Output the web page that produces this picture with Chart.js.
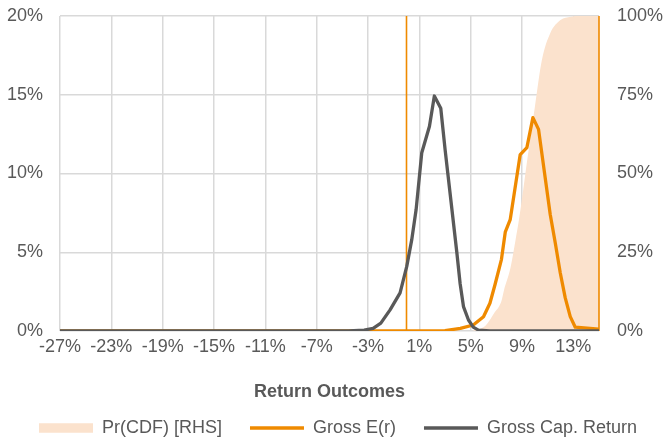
<!DOCTYPE html>
<html><head><meta charset="utf-8">
<script src="https://cdn.jsdelivr.net/npm/chart.js@4.4.1/dist/chart.umd.min.js"></script>
<style>html,body{margin:0;padding:0;background:#fff}#wrap{width:665px;height:443px}</style>
</head><body><div id="wrap"><canvas id="c" width="665" height="443"></canvas></div>
<script>
// ---- data ----
const seriesLabels = ['Pr(CDF) [RHS]', 'Gross E(r)', 'Gross Cap. Return'];
const axisTitle = 'Return Outcomes';
const xTickValues = [-27, -23, -19, -15, -11, -7, -3, 1, 5, 9, 13];

// cumulative probability (right axis, %)
const cdfX = [-27, 5.0, 5.5, 6.0, 6.3, 6.8, 7.4, 7.6, 8.1, 8.5, 8.75, 9.1, 9.5, 10.0, 10.55, 11.2, 12.0, 12.8, 13.5, 15];
const cdfY = [0, 0, 0.5, 1.2, 2.4, 5.5, 9.5, 13, 20, 29, 35, 45, 57, 71, 86, 94.5, 98.7, 99.8, 100, 100];

// Gross E(r) distribution (left axis, %)
const erX = [-27, 3.0, 4.2, 5.2, 6.0, 6.5, 6.9, 7.4, 7.7, 8.08, 8.86, 9.38, 9.85, 10.29, 11.2, 11.59, 11.98, 12.37, 12.76, 13.15, 15];
const erY = [0, 0.02, 0.17, 0.38, 0.91, 1.76, 2.95, 4.55, 6.3, 7.07, 11.2, 11.64, 13.55, 12.8, 7.4, 5.6, 3.7, 2.1, 0.91, 0.24, 0.12];

// Gross capital return distribution (left axis, %)
const capX = [-27, -4.5, -3.3, -2.6, -2.0, -1.28, -0.5, 0.02, 0.41, 0.75, 1.19, 1.79, 2.17, 2.67, 3.01, 3.22, 3.92, 4.18, 4.44, 4.83, 5.2, 5.6, 6.5, 15];
const capY = [0, 0.01, 0.06, 0.17, 0.5, 1.34, 2.42, 4.1, 5.8, 7.71, 11.32, 13.0, 14.92, 14.14, 11.5, 10.0, 5.0, 3.0, 1.55, 0.7, 0.25, 0.06, 0.01, 0];

// vertical marker lines (x positions, %)
const markerX = [0, 15];

// ---- styling ----
const ORANGE = '#EF8A00';
const GRAY = '#595959';
const PEACH = '#FBE2CD';
const GRID = '#D9D9D9';
const TXT = '#595959';
const FONT = "'Liberation Sans', Arial, sans-serif";

const pts = (xs, ys) => xs.map((x, i) => ({x: x, y: ys[i]}));
const vline = (x) => [{x: x, y: 0}, {x: x, y: 20}];

Chart.defaults.font.family = FONT;
Chart.defaults.color = TXT;

// nudges the legend block to where the reference has it
const legendShift = {
  id: 'legendShift',
  afterLayout(chart) {
    const l = chart.legend;
    if (!l) return;
    l.left += 11; l.right += 11;
    l.top -= 5.5; l.bottom -= 5.5;
  }
};

const fixV = (w) => (s) => { s.width = w; s.paddingTop = 0; s.paddingBottom = 0; };

new Chart(document.getElementById('c'), {
  type: 'line',
  plugins: [legendShift],
  data: {
    datasets: [
      {label: seriesLabels[0], data: pts(cdfX, cdfY), yAxisID: 'y2', fill: 'origin',
       backgroundColor: PEACH, borderColor: PEACH, borderWidth: 0, pointRadius: 0,
       pointStyle: 'rect', cubicInterpolationMode: 'monotone', order: 4},
      {label: seriesLabels[1], data: pts(erX, erY), yAxisID: 'y', fill: false,
       borderColor: ORANGE, backgroundColor: ORANGE, borderWidth: 3.3, pointRadius: 0,
       pointStyle: 'line', borderJoinStyle: 'round', borderCapStyle: 'round', order: 2},
      {label: seriesLabels[2], data: pts(capX, capY), yAxisID: 'y', fill: false,
       borderColor: GRAY, backgroundColor: GRAY, borderWidth: 3.3, pointRadius: 0,
       pointStyle: 'line', borderJoinStyle: 'round', borderCapStyle: 'round', order: 1},
      {label: '', data: vline(markerX[0]), yAxisID: 'y', borderColor: ORANGE, borderWidth: 1.6,
       pointRadius: 0, fill: false, order: 3},
      {label: '', data: vline(markerX[1]), yAxisID: 'y', borderColor: ORANGE, borderWidth: 1.6,
       pointRadius: 0, fill: false, order: 3, clip: 4}
    ]
  },
  options: {
    responsive: false,
    devicePixelRatio: 1,
    animation: false,
    events: [],
    layout: {padding: {left: 0, right: 0, top: 16, bottom: -9.5}},
    plugins: {
      tooltip: {enabled: false},
      legend: {
        position: 'bottom', align: 'start',
        labels: {
          usePointStyle: true, pointStyleWidth: 54, boxHeight: 9.3, padding: 28,
          color: TXT, font: {size: 18},
          filter: (item) => item.datasetIndex < 3,
          sort: (a, b) => a.datasetIndex - b.datasetIndex
        }
      }
    },
    scales: {
      x: {
        type: 'linear', min: -27, max: 15,
        afterBuildTicks: (s) => { s.ticks = xTickValues.map(v => ({value: v})); },
        afterFit: (s) => { s.height = 65.5; s.paddingLeft = 0; s.paddingRight = 0; },
        ticks: {callback: (v) => v + '%', font: {size: 18}, color: TXT, padding: 5,
                maxRotation: 0, autoSkip: false},
        grid: {color: GRID, lineWidth: 1.5, drawTicks: false},
        border: {display: false},
        title: {display: true, text: axisTitle, color: TXT,
                font: {size: 18, weight: 'bold', lineHeight: 0.5}, padding: {top: 0, bottom: 0}}
      },
      y: {
        position: 'left', min: 0, max: 20,
        afterFit: fixV(60),
        ticks: {stepSize: 5, callback: (v) => v + '%', font: {size: 18}, color: TXT, padding: 17},
        grid: {color: GRID, lineWidth: 1.5, drawTicks: false},
        border: {display: false}
      },
      y2: {
        position: 'right', min: 0, max: 100,
        afterFit: fixV(66),
        ticks: {stepSize: 25, callback: (v) => v + '%', font: {size: 18}, color: TXT, padding: 18},
        grid: {drawOnChartArea: false, drawTicks: false},
        border: {display: false}
      }
    }
  }
});
</script></body></html>
